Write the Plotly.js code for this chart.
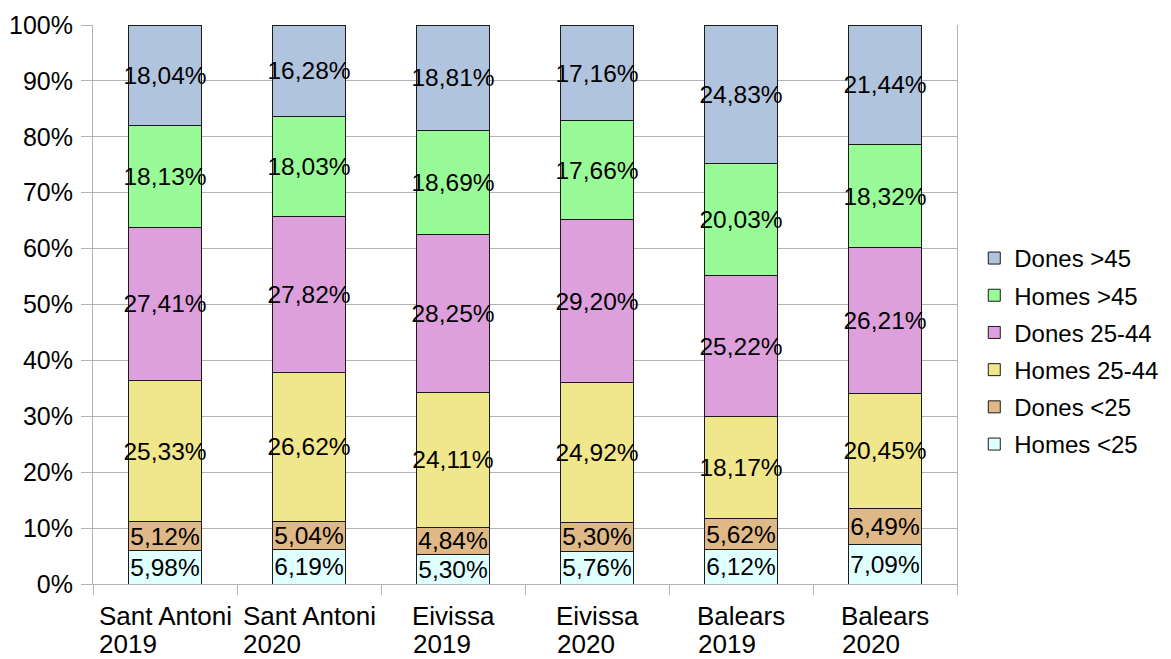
<!DOCTYPE html>
<html>
<head>
<meta charset="utf-8">
<script src="https://cdn.plot.ly/plotly-3.0.1.min.js"></script>
<style>html,body{margin:0;padding:0;background:#fff;}#chart{width:1171px;height:659px;}</style>
</head>
<body>
<div id="chart"></div>
<script>
const categoryPlaces = ["Sant Antoni", "Sant Antoni", "Eivissa", "Eivissa", "Balears", "Balears"];
const categoryYears = ["2019", "2020", "2019", "2020", "2019", "2020"];
const seriesNames = ["Homes <25", "Dones <25", "Homes 25-44", "Dones 25-44", "Homes >45", "Dones >45"];
const homesMenor25 = [5.98, 6.19, 5.30, 5.76, 6.12, 7.09];
const donesMenor25 = [5.12, 5.04, 4.84, 5.30, 5.62, 6.49];
const homes25_44 = [25.33, 26.62, 24.11, 24.92, 18.17, 20.45];
const dones25_44 = [27.41, 27.82, 28.25, 29.20, 25.22, 26.21];
const homesMajor45 = [18.13, 18.03, 18.69, 17.66, 20.03, 18.32];
const donesMajor45 = [18.04, 16.28, 18.81, 17.16, 24.83, 21.44];
const yTicks = [0, 10, 20, 30, 40, 50, 60, 70, 80, 90, 100];

const seriesValues = [homesMenor25, donesMenor25, homes25_44, dones25_44, homesMajor45, donesMajor45];
const colors = ["#e0ffff", "#deb887", "#f0e68c", "#dda0dd", "#98fb98", "#b0c4de"];
const FONT = "Liberation Sans, Arial, sans-serif";
const CAT_SIZE = 26;
const xs = categoryPlaces.map((c, i) => i);

const traces = seriesValues.map((vals, k) => ({
  type: "bar",
  name: seriesNames[k],
  legendgroup: "g" + k,
  legendrank: seriesNames.length - k,
  x: xs,
  y: vals,
  width: 0.507,
  marker: {color: colors[k], line: {color: "#1a1a1a", width: 1}},
  text: vals.map(v => v.toFixed(2).replace(".", ",") + "%"),
  textposition: "inside",
  insidetextanchor: "middle",
  constraintext: "none",
  textangle: 0,
  textfont: {family: FONT, size: 24.5, color: "#000"},
  hoverinfo: "skip",
  cliponaxis: false
}));

// measure first-line widths so the second line can be left-aligned with it
const ctx = document.createElement("canvas").getContext("2d");
ctx.font = CAT_SIZE + "px 'Liberation Sans', Arial, sans-serif";
const annotations = [];
categoryPlaces.forEach((p, i) => {
  const w = ctx.measureText(p).width;
  annotations.push({
    x: i, xref: "x", y: 0, yref: "paper",
    xanchor: "center", yanchor: "middle", yshift: -32,
    text: p, showarrow: false,
    font: {family: FONT, size: CAT_SIZE, color: "#000"}
  });
  annotations.push({
    x: i, xref: "x", y: 0, yref: "paper",
    xanchor: "left", yanchor: "middle", yshift: -60, xshift: -w / 2 - 1,
    text: categoryYears[i], showarrow: false,
    font: {family: FONT, size: CAT_SIZE, color: "#000"}
  });
});

const layout = {
  width: 1171, height: 659,
  margin: {l: 93, r: 214, t: 25, b: 75, autoexpand: false},
  paper_bgcolor: "#fff", plot_bgcolor: "#fff",
  barmode: "stack",
  showlegend: true,
  font: {family: FONT, color: "#000"},
  xaxis: {
    range: [-0.5, 5.5],
    tickvals: [-0.5, 0.5, 1.5, 2.5, 3.5, 4.5, 5.5],
    ticktext: ["", "", "", "", "", "", ""],
    ticks: "outside", ticklen: 10, tickcolor: "#b3b3b3", tickwidth: 1,
    showgrid: false, zeroline: false,
    showline: true, linecolor: "#b3b3b3", linewidth: 1
  },
  yaxis: {
    range: [0, 100.01],
    tickvals: yTicks,
    ticktext: yTicks.map(t => t + "%"),
    ticks: "outside", ticklen: 11, tickcolor: "#b3b3b3", tickwidth: 1,
    ticklabelstandoff: 3,
    showgrid: true, gridcolor: "#b3b3b3", gridwidth: 1,
    zeroline: false,
    showline: true, linecolor: "#b3b3b3", linewidth: 1, mirror: true,
    tickfont: {family: FONT, size: 25, color: "#000"}
  },
  legend: {
    x: 1.020, xanchor: "left", y: 0.416, yanchor: "middle",
    traceorder: "grouped", tracegroupgap: 3,
    font: {family: FONT, size: 24, color: "#000"},
    bgcolor: "rgba(0,0,0,0)"
  },
  annotations: annotations
};

Plotly.newPlot("chart", traces, layout, {displayModeBar: false, staticPlot: true});
</script>
</body>
</html>
